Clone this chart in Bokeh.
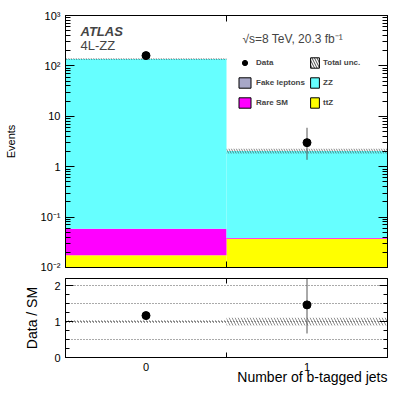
import numpy as np
from bokeh.plotting import figure
from bokeh.models import (ColumnDataSource, FixedTicker, LogAxis, LinearAxis,
                          Label, Legend, LegendItem, Range1d, Title)
from bokeh.layouts import column
from bokeh.embed import file_html
from bokeh.resources import INLINE

# ---------------- data ----------------
categories = ["0", "1"]
bin_edges = [-0.5, 0.5, 1.5]
bin_centers = [0.0, 1.0]
ttz = [0.0165, 0.036]
rare_sm = [0.041, 0.0015]
fake_leptons = [0.0, 0.0]
zz = [137.0, 2.01]
data_counts = [160, 3]
data_err_lo = [12.6, 1.63]
data_err_hi = [13.6, 2.92]
total_unc_rel = [0.04, 0.11]

main_ticks = [1e-2, 1e-1, 1.0, 10.0, 100.0, 1000.0]
main_tick_labels = ["10⁻²", "10⁻¹", "1", "10", "10²", "10³"]
ratio_ticks = [0.0, 1.0, 2.0]

FONT = "Liberation Sans"
CYAN = "#66ffff"
MAGENTA = "#ff00ff"
YELLOW = "#ffff00"
FAKE = "#a8a8c8"

# ---------------- derived ----------------
left = np.array(bin_edges[:-1])
right = np.array(bin_edges[1:])
floor = 1e-3
stack_order = [("ttZ", ttz, YELLOW), ("Rare SM", rare_sm, MAGENTA),
               ("Fake leptons", fake_leptons, FAKE), ("ZZ", zz, CYAN)]
sm = np.zeros(2)
for _, v, _ in stack_order:
    sm = sm + np.array(v)
unc = np.array(total_unc_rel)
dat = np.array(data_counts, dtype=float)

# ---------------- main figure ----------------
p = figure(width=403, height=272, x_range=Range1d(-0.5, 1.5),
           y_range=Range1d(1e-2, 1e3), y_axis_type="log",
           output_backend="svg", toolbar_location=None,
           min_border_left=65, min_border_right=16, min_border_top=15,
           min_border_bottom=5)
p.grid.visible = False
p.outline_line_color = "black"

bottom = np.full(2, floor)
for name, vals, col in stack_order:
    top = bottom + np.array(vals)
    p.quad(left=left, right=right, bottom=bottom, top=top,
           fill_color=col, line_color=None)
    bottom = top

# total uncertainty band
p.quad(left=left, right=right, bottom=sm * (1 - unc), top=sm * (1 + unc),
       fill_alpha=0, line_color=None, hatch_pattern="\\", hatch_color="#333333",
       hatch_scale=5, hatch_weight=0.6)

# data
p.segment(x0=bin_centers, x1=bin_centers, y0=dat - np.array(data_err_lo),
          y1=dat + np.array(data_err_hi), line_color="#555555", line_width=1)
data_r = p.scatter(x=bin_centers, y=dat, size=8, color="black")

# legend-only proxy renderers (NaN geometry, never drawn in the frame)
nan_src = dict(left=[np.nan], right=[np.nan], bottom=[np.nan], top=[np.nan])
def proxy(col, **kw):
    return p.quad(source=ColumnDataSource(nan_src), left="left", right="right",
                  bottom="bottom", top="top", fill_color=col,
                  line_color="black", line_width=1, **kw)
unc_proxy = proxy("white", hatch_pattern="\\", hatch_color="black",
                  hatch_scale=5, hatch_weight=0.7)
fake_proxy = proxy(FAKE)
rare_proxy = proxy(MAGENTA)
zz_proxy = proxy(CYAN)
ttz_proxy = proxy(YELLOW)

leg_style = dict(border_line_color=None, background_fill_alpha=0,
                 label_text_font=FONT, label_text_font_style="bold",
                 label_text_font_size="8px", glyph_height=13, label_height=13,
                 spacing=7, padding=0, margin=0)
leg1 = Legend(items=[LegendItem(label="Data", renderers=[data_r]),
                     LegendItem(label="Fake leptons", renderers=[fake_proxy]),
                     LegendItem(label="Rare SM", renderers=[rare_proxy])],
              location=(172, 158), glyph_width=15, label_standoff=4, **leg_style)
leg2 = Legend(items=[LegendItem(label="Total unc.", renderers=[unc_proxy]),
                     LegendItem(label="ZZ", renderers=[zz_proxy]),
                     LegendItem(label="ttZ", renderers=[ttz_proxy])],
              location=(244, 158), glyph_width=11, label_standoff=3, **leg_style)
p.add_layout(leg1, "center")
p.add_layout(leg2, "center")

# axes styling
minor_log = [m * 10.0 ** e for e in range(-2, 3) for m in range(2, 10)]
log_ticker = FixedTicker(ticks=main_ticks, minor_ticks=minor_log)

def style_axis(ax, labels=True, major_in=9, minor_in=5, size="11px", ticks=()):
    ax.major_tick_in = major_in
    ax.major_tick_out = 0
    ax.minor_tick_in = minor_in
    ax.minor_tick_out = 0
    ax.axis_line_color = "black"
    ax.major_tick_line_color = "black"
    ax.minor_tick_line_color = "black"
    if labels:
        ax.major_label_text_font = FONT
        ax.major_label_text_font_size = size
        ax.major_label_text_color = "black"
    else:
        ax.major_label_overrides = {t: "" for t in ticks}
        ax.major_label_text_font_size = "1px"
        ax.major_label_standoff = 0

def style_label(ax, text, standoff, size):
    ax.axis_label = text
    ax.axis_label_text_font = FONT
    ax.axis_label_text_font_size = size
    ax.axis_label_text_font_style = "normal"
    ax.axis_label_text_color = "black"
    ax.axis_label_standoff = standoff

yl = p.yaxis[0]
yl.ticker = log_ticker
yl.major_label_overrides = {t: s for t, s in zip(main_ticks, main_tick_labels)}
style_axis(yl)
yl.major_label_standoff = 5
style_label(yl, "Events", 21, "11px")

yr = LogAxis(ticker=log_ticker)
style_axis(yr, labels=False, ticks=main_ticks)
p.add_layout(yr, "right")

xb = p.xaxis[0]
xb.ticker = FixedTicker(ticks=[0.5], minor_ticks=[])
style_axis(xb, labels=False, major_in=6, ticks=[0.5])
xt = LinearAxis(ticker=FixedTicker(ticks=[0.5], minor_ticks=[]))
style_axis(xt, labels=False, major_in=6, ticks=[0.5])
p.add_layout(xt, "above")

# texts inside the frame
p.add_layout(Label(x=-0.407, y=489, text="ATLAS", text_align="left",
                   text_baseline="middle", text_font=FONT,
                   text_font_style="bold italic", text_font_size="13px"))
p.add_layout(Label(x=-0.407, y=254, text="4L-ZZ", text_align="left",
                   text_baseline="middle", text_font=FONT,
                   text_font_size="13px"))
p.add_layout(Label(x=0.599, y=345, text="√s=8 TeV, 20.3 fb⁻¹",
                   text_align="left", text_baseline="middle", text_font=FONT,
                   text_font_size="12px"))

# ---------------- ratio figure ----------------
p2 = figure(width=403, height=116, x_range=p.x_range, y_range=Range1d(0, 2.2),
            output_backend="svg", toolbar_location=None,
            min_border_left=65, min_border_right=16, min_border_top=6,
            min_border_bottom=31)
p2.outline_line_color = "black"
p2.xgrid.visible = False
p2.ygrid.ticker = FixedTicker(ticks=[0.5, 1.0, 1.5, 2.0])
p2.ygrid.grid_line_color = "#555555"
p2.ygrid.grid_line_dash = "1 2"
p2.ygrid.grid_line_width = 1

p2.quad(left=left, right=right, bottom=1 - unc, top=1 + unc, fill_alpha=0,
        line_color=None, hatch_pattern="\\", hatch_color="#444444",
        hatch_scale=6, hatch_weight=0.6)
ratio = dat / sm
p2.segment(x0=bin_centers, x1=bin_centers,
           y0=(dat - np.array(data_err_lo)) / sm,
           y1=(dat + np.array(data_err_hi)) / sm,
           line_color="#555555", line_width=1)
p2.scatter(x=bin_centers, y=ratio, size=8, color="black")

minor_lin = [0.25, 0.5, 0.75, 1.25, 1.5, 1.75, 2.25]
ry = p2.yaxis[0]
ry.ticker = FixedTicker(ticks=ratio_ticks, minor_ticks=minor_lin)
style_axis(ry, major_in=8, minor_in=4, size="11px")
ry.major_label_standoff = 5
style_label(ry, "Data / SM", 11, "14px")

ryr = LinearAxis(ticker=FixedTicker(ticks=ratio_ticks, minor_ticks=minor_lin))
style_axis(ryr, labels=False, major_in=8, minor_in=4, ticks=ratio_ticks)
p2.add_layout(ryr, "right")

rx = p2.xaxis[0]
rx.ticker = FixedTicker(ticks=bin_centers, minor_ticks=[0.5])
rx.major_label_overrides = {c: s for c, s in zip(bin_centers, categories)}
style_axis(rx, major_in=0, minor_in=5, size="11px")
rx.major_label_standoff = 5
rxt = LinearAxis(ticker=FixedTicker(ticks=[0.5], minor_ticks=[]))
style_axis(rxt, labels=False, major_in=5, ticks=[0.5])
p2.add_layout(rxt, "above")

p2.add_layout(Title(text="Number of b-tagged jets", align="right",
                    vertical_align="top", text_font=FONT, text_font_size="14px",
                    text_font_style="normal", text_color="black",
                    standoff=-10, offset=0), "below")

layout = column(p, p2, spacing=0)
open("out.html", "w").write(file_html(layout, INLINE))
